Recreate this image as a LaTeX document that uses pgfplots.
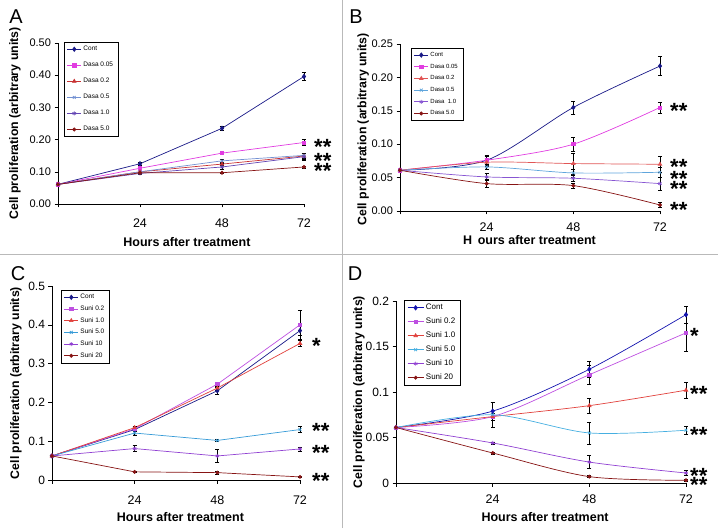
\documentclass[border=0pt]{standalone}
\usepackage{fontspec}
\setmainfont{Liberation Sans}
\usepackage{pgfplots}
\pgfplotsset{compat=1.18}
\definecolor{cont}{RGB}{25,25,135}
\definecolor{contD}{RGB}{20,20,175}
\definecolor{magA}{RGB}{225,60,225}
\definecolor{redA}{RGB}{200,50,50}
\definecolor{redB}{RGB}{225,85,85}
\definecolor{lblA}{RGB}{115,145,210}
\definecolor{lblB}{RGB}{95,165,220}
\definecolor{purA}{RGB}{100,70,180}
\definecolor{purB}{RGB}{135,85,210}
\definecolor{dred}{RGB}{135,20,20}
\definecolor{lilac}{RGB}{190,80,225}
\definecolor{sred}{RGB}{225,65,60}
\definecolor{cyanC}{RGB}{55,155,215}
\definecolor{cyanD}{RGB}{70,175,225}
\definecolor{purC}{RGB}{145,65,210}
\tikzset{stars/.style={anchor=base west, inner sep=0pt, font=\bfseries\fontsize{22}{22}\selectfont, yshift=-12pt}}
\pgfplotsset{
  panel/.style={scale only axis, axis lines*=left, xmin=0, xmax=72, ymin=0,
    enlargelimits=false, clip=false, tick align=outside, major tick length=3.5pt,
    tick style={black, line width=0.5pt}, axis line style={black, line width=0.6pt},
    xtick={0,24,48,72}, xticklabels={,24,48,72},
    /pgf/number format/assume math mode=true,
    xticklabel style={font=\fontsize{12.5}{12.5}\selectfont},
    yticklabel style={font=\fontsize{11}{11}\selectfont},
    xlabel style={font=\bfseries\fontsize{12.5}{13}\selectfont, anchor=center},
    ylabel style={font=\bfseries\fontsize{12.3}{13}\selectfont, anchor=center},
    legend cell align=left,
    legend style={draw=black, fill=white, anchor=north west, font=\fontsize{6.5}{7.5}\selectfont},
    legend image code/.code={\draw[mark repeat=2,mark phase=2] plot coordinates {(0cm,0cm) (0.24cm,0cm) (0.48cm,0cm)};},
    every axis plot/.append style={line width=0.7pt},
    error bars/error bar style={black, line width=0.5pt},
    error bars/error mark options={black, rotate=90, mark size=2pt, line width=0.5pt},
  },
  eb/.style={error bars/y dir=both, error bars/y explicit},
  sCont/.style={#1, mark=diamond*, mark size=2.2pt, mark options={fill=#1}},
  sSq/.style={#1, mark=square*, mark size=1.6pt, mark options={fill=#1}},
  sTri/.style={#1, mark=triangle*, mark size=2pt, mark options={fill=#1}},
  sX/.style={#1, mark=x, mark size=2pt},
  sAst/.style={#1, mark=asterisk, mark size=2pt},
  sCirc/.style={#1, mark=*, mark size=1.6pt, mark options={fill=#1}},
}
\begin{document}
\begin{tikzpicture}
\useasboundingbox (0pt,0pt) rectangle (718pt,528pt);
\draw[gray!55, line width=0.8pt] (0pt,274pt) -- (718pt,274pt);
\draw[gray!55, line width=0.8pt] (342pt,0pt) -- (342pt,528pt);
\node[font=\fontsize{20}{20}\selectfont] at (16pt,511pt) {A};
\node[font=\fontsize{20}{20}\selectfont] at (356pt,511pt) {B};
\node[font=\fontsize{20}{20}\selectfont] at (18pt,254pt) {C};
\node[font=\fontsize{20}{20}\selectfont] at (355pt,254pt) {D};

% ---------------- A
\begin{axis}[panel, at={(58pt,324pt)}, anchor=south west, width=246pt, height=161pt,
  ymax=0.5, ytick={0,0.1,0.2,0.3,0.4,0.5},
  yticklabel style={/pgf/number format/.cd, fixed, fixed zerofill, precision=2},
  xticklabel shift=8pt,
  xlabel={Hours after treatment}, ylabel={Cell proliferation (arbitrary units)},
  xlabel style={at={(axis description cs:0.524,-0.236)}},
  ylabel style={at={(axis description cs:-0.175,0.5)}},
  legend style={at={(axis description cs:0.024,1.006)}, row sep=6pt}]
\addplot[sCont=cont, eb] coordinates {(0,0.061) +- (0,0.002) (24,0.125) +- (0,0.004) (48,0.235) +- (0,0.006) (72,0.396) +- (0,0.012)};
\addplot[sSq=magA, eb] coordinates {(0,0.061) +- (0,0.002) (24,0.111) +- (0,0.004) (48,0.158) +- (0,0.004) (72,0.191) +- (0,0.010)};
\addplot[sTri=redA, eb] coordinates {(0,0.061) +- (0,0.002) (24,0.100) +- (0,0.004) (48,0.124) +- (0,0.005) (72,0.149) +- (0,0.010)};
\addplot[sX=lblA, eb] coordinates {(0,0.061) +- (0,0.002) (24,0.100) +- (0,0.004) (48,0.134) +- (0,0.006) (72,0.151) +- (0,0.008)};
\addplot[sAst=purA, eb] coordinates {(0,0.061) +- (0,0.002) (24,0.095) +- (0,0.004) (48,0.115) +- (0,0.006) (72,0.147) +- (0,0.010)};
\addplot[sCirc=dred, eb] coordinates {(0,0.061) +- (0,0.002) (24,0.097) +- (0,0.003) (48,0.097) +- (0,0.003) (72,0.115) +- (0,0.003)};
\legend{Cont, Dasa 0.05, Dasa 0.2, Dasa 0.5, Dasa 1.0, Dasa 5.0}
\node[stars, xshift=10pt] at (axis cs:72,0.190) {**};
\node[stars, xshift=10pt] at (axis cs:72,0.147) {**};
\node[stars, xshift=10pt] at (axis cs:72,0.115) {**};
\end{axis}

% ---------------- B
\begin{axis}[panel, at={(400pt,317pt)}, anchor=south west, width=260pt, height=167pt,
  ymax=0.25, ytick={0,0.05,0.1,0.15,0.2,0.25},
  yticklabel style={/pgf/number format/.cd, fixed, fixed zerofill, precision=2},
  xticklabel shift=5pt,
  xlabel={H\hspace{0.45em}ours after treatment}, ylabel={Cell proliferation (arbitrary units)},
  xlabel style={at={(axis description cs:0.498,-0.174)}},
  ylabel style={at={(axis description cs:-0.142,0.49)}},
  legend style={at={(axis description cs:0.042,0.976)}, row sep=2pt, font=\fontsize{6}{7}\selectfont}]
\addplot[smooth, sCont=cont, eb] coordinates {(0,0.061) +- (0,0.001) (24,0.076) +- (0,0.008) (48,0.155) +- (0,0.010) (72,0.217) +- (0,0.014)};
\addplot[smooth, sSq=magA, eb] coordinates {(0,0.061) +- (0,0.001) (24,0.076) +- (0,0.006) (48,0.100) +- (0,0.010) (72,0.155) +- (0,0.008)};
\addplot[smooth, sTri=redB, eb] coordinates {(0,0.061) +- (0,0.001) (24,0.073) +- (0,0.006) (48,0.071) +- (0,0.016) (72,0.070) +- (0,0.012)};
\addplot[smooth, sX=lblB, eb] coordinates {(0,0.061) +- (0,0.001) (24,0.066) +- (0,0.004) (48,0.057) +- (0,0.006) (72,0.058) +- (0,0.008)};
\addplot[smooth, sAst=purB, eb] coordinates {(0,0.061) +- (0,0.001) (24,0.051) +- (0,0.005) (48,0.049) +- (0,0.004) (72,0.041) +- (0,0.010)};
\addplot[smooth, sCirc=dred, eb] coordinates {(0,0.061) +- (0,0.001) (24,0.041) +- (0,0.006) (48,0.038) +- (0,0.004) (72,0.009) +- (0,0.004)};
\legend{Cont, Dasa 0.05, Dasa 0.2, Dasa 0.5, Dasa\ \ 1.0, Dasa 5.0}
\node[stars, xshift=10pt] at (axis cs:72,0.157) {**};
\node[stars, xshift=10pt] at (axis cs:72,0.072) {**};
\node[stars, xshift=10pt] at (axis cs:72,0.055) {**};
\node[stars, xshift=10pt] at (axis cs:72,0.039) {**};
\node[stars, xshift=10pt] at (axis cs:72,0.0075) {**};
\end{axis}

% ---------------- C
\begin{axis}[panel, at={(52pt,48pt)}, anchor=south west, width=248pt, height=194pt,
  ymax=0.5, ytick={0,0.1,0.2,0.3,0.4,0.5},
  yticklabel style={font=\fontsize{12}{12}\selectfont, /pgf/number format/.cd, fixed, precision=2},
  xticklabel shift=9pt,
  xlabel={Hours after treatment}, ylabel={Cell proliferation (arbitrary units)},
  xlabel style={at={(axis description cs:0.518,-0.190)}},
  ylabel style={at={(axis description cs:-0.145,0.5)}},
  legend style={at={(axis description cs:0.036,0.979)}, row sep=1.5pt, font=\fontsize{6.5}{7.5}\selectfont}]
\addplot[sCont=cont, eb] coordinates {(0,0.062) +- (0,0.002) (24,0.130) +- (0,0.005) (48,0.230) +- (0,0.010) (72,0.385) +- (0,0.012)};
\addplot[sSq=lilac, eb] coordinates {(0,0.062) +- (0,0.002) (24,0.132) +- (0,0.004) (48,0.247) +- (0,0.005) (72,0.400) +- (0,0.038)};
\addplot[sTri=sred, eb] coordinates {(0,0.062) +- (0,0.002) (24,0.135) +- (0,0.004) (48,0.237) +- (0,0.005) (72,0.352) +- (0,0.008)};
\addplot[sX=cyanC, eb] coordinates {(0,0.062) +- (0,0.002) (24,0.121) +- (0,0.006) (48,0.102) +- (0,0.003) (72,0.130) +- (0,0.008)};
\addplot[sAst=purC, eb] coordinates {(0,0.062) +- (0,0.002) (24,0.081) +- (0,0.008) (48,0.062) +- (0,0.016) (72,0.080) +- (0,0.005)};
\addplot[sCirc=dred, eb] coordinates {(0,0.062) +- (0,0.002) (24,0.021) +- (0,0.002) (48,0.019) +- (0,0.004) (72,0.008) +- (0,0.002)};
\legend{Cont, Suni 0.2, Suni 1.0, Suni 5.0, Suni 10, Suni 20}
\node[stars, xshift=12pt] at (axis cs:72,0.356) {*};
\node[stars, xshift=12pt] at (axis cs:72,0.137) {**};
\node[stars, xshift=12pt] at (axis cs:72,0.082) {**};
\node[stars, xshift=12pt] at (axis cs:72,0.010) {**};
\end{axis}

% ---------------- D
\begin{axis}[panel, at={(396pt,45pt)}, anchor=south west, width=290pt, height=182pt,
  ymax=0.2, ytick={0,0.05,0.1,0.15,0.2},
  yticklabel style={font=\fontsize{12}{12}\selectfont, /pgf/number format/.cd, fixed, precision=2},
  xticklabel shift=5pt,
  xlabel={Hours after treatment}, ylabel={Cell proliferation (arbitrary units)},
  xlabel style={at={(axis description cs:0.514,-0.187)}},
  ylabel style={at={(axis description cs:-0.128,0.5)}},
  legend style={at={(axis description cs:0.028,1.005)}, row sep=2.7pt, font=\fontsize{8}{9}\selectfont},
  legend image code/.code={\draw[mark repeat=2,mark phase=2] plot coordinates {(0cm,0cm) (0.28cm,0cm) (0.56cm,0cm)};}]
\addplot[smooth, sCont=contD, eb] coordinates {(0,0.061) +- (0,0.001) (24,0.079) +- (0,0.010) (48,0.125) +- (0,0.009) (72,0.185) +- (0,0.009)};
\addplot[smooth, sSq=lilac, eb] coordinates {(0,0.061) +- (0,0.001) (24,0.073) +- (0,0.004) (48,0.119) +- (0,0.010) (72,0.165) +- (0,0.020)};
\addplot[smooth, sTri=sred, eb] coordinates {(0,0.061) +- (0,0.001) (24,0.073) +- (0,0.004) (48,0.085) +- (0,0.008) (72,0.102) +- (0,0.009)};
\addplot[smooth, sX=cyanD, eb] coordinates {(0,0.061) +- (0,0.001) (24,0.075) +- (0,0.014) (48,0.055) +- (0,0.012) (72,0.058) +- (0,0.004)};
\addplot[smooth, sAst=purC, eb] coordinates {(0,0.061) +- (0,0.001) (24,0.044) +- (0,0.001) (48,0.023) +- (0,0.007) (72,0.011) +- (0,0.003)};
\addplot[smooth, sCirc=dred, eb] coordinates {(0,0.061) +- (0,0.001) (24,0.033) +- (0,0.001) (48,0.007) +- (0,0.001) (72,0.003) +- (0,0.001)};
\legend{Cont, Suni 0.2, Suni 1.0, Suni 5.0, Suni 10, Suni 20}
\node[stars, xshift=4pt] at (axis cs:72,0.166) {*};
\node[stars, xshift=4pt] at (axis cs:72,0.103) {**};
\node[stars, xshift=4pt] at (axis cs:72,0.058) {**};
\node[stars, xshift=4pt] at (axis cs:72,0.013) {**};
\node[stars, xshift=4pt] at (axis cs:72,0.003) {**};
\end{axis}
\end{tikzpicture}
\end{document}
